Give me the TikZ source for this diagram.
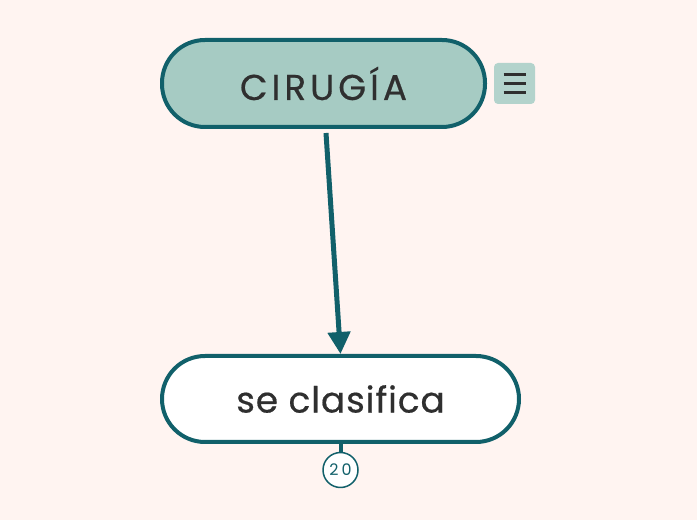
\documentclass[tikz,border=0pt]{standalone}
\usepackage{fontspec}
\usetikzlibrary{arrows.meta}
\setmainfont{Poppins}
\newfontfamily\spacedfont[LetterSpace=11,FakeBold=0.6]{Poppins}
\newfontfamily\plainfont[LetterSpace=2.5,FakeBold=0.5]{Poppins}
\newfontfamily\badgefont[LetterSpace=20]{Poppins}
\definecolor{bgpink}{HTML}{FFF4F1}
\definecolor{tealdark}{HTML}{11606A}
\definecolor{sage}{HTML}{A6CBC3}
\definecolor{inkgray}{HTML}{2F2F2F}
\begin{document}
\begin{tikzpicture}[>=latex,line join=round,
  mainbox/.style={draw=tealdark,line width=4bp,rounded corners=43bp,inner sep=0pt,text=inkgray},
  countbadge/.style={circle,draw=tealdark,line width=1.5bp,fill=white,minimum size=35bp,inner sep=0pt,text=tealdark,font=\badgefont\fontsize{16}{16}\selectfont},
]
%%
\fill [bgpink] (0bp,0bp) rectangle (697bp,520bp);
\useasboundingbox (0bp,0bp) rectangle (697bp,520bp);
\node (node_0) at (323.5bp,436.5bp) [mainbox,fill=sage,minimum width=323bp,minimum height=87bp,font=\spacedfont\fontsize{36}{36}\selectfont] {CIRUGÍA};
  \node (menu_0) at (514.5bp,436.5bp) [fill=sage!85!white,rounded corners=4bp,minimum size=41bp,inner sep=0pt] {};
  \foreach \dy in {-9,0,9}
    \draw [inkgray,line width=2.2bp] ([xshift=-11bp,yshift=\dy bp]menu_0.center) -- ([xshift=11bp,yshift=\dy bp]menu_0.center);
\node (node_1) at (340.5bp,121bp) [mainbox,fill=white,minimum width=357bp,minimum height=86bp,font=\plainfont\fontsize{36}{36}\selectfont] {se clasifica};
  \node (badge_1) at (340.5bp,50bp) [countbadge] {20};
  \draw [tealdark,line width=5bp,-{Triangle[length=22bp,width=22bp]}] (326bp,387bp) -- (node_1.north);
  \draw [tealdark,line width=4bp] (node_1.south) -- (badge_1.north);
%
\end{tikzpicture}
\end{document}
